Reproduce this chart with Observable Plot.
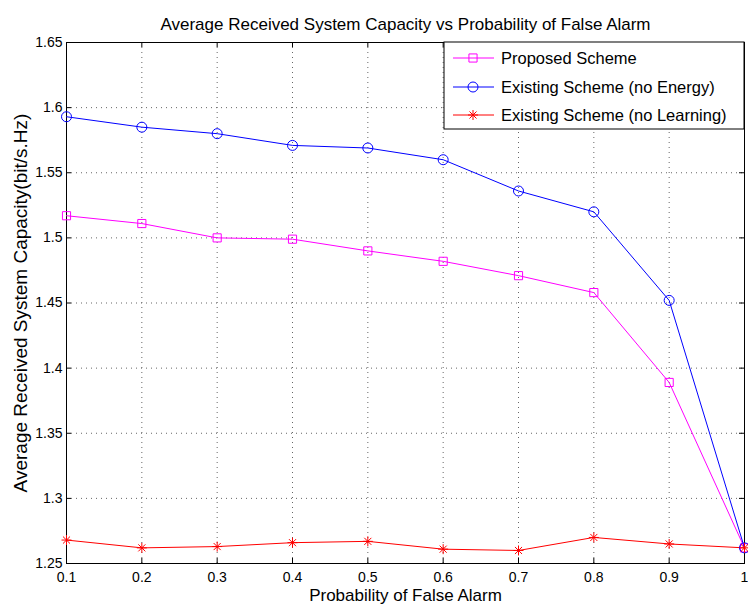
<!DOCTYPE html>
<html>
<head>
<meta charset="utf-8">
<script src="https://cdn.jsdelivr.net/npm/d3@7"></script>
<script src="https://cdn.jsdelivr.net/npm/@observablehq/plot@0.6"></script>
<style>
  html, body { margin: 0; padding: 0; background: #fff; }
  #chart { position: relative; width: 748px; height: 613px; }
</style>
</head>
<body>
<div id="chart"></div>
<script>
// Probability of false alarm (x) and average received capacity per scheme
const pfa = [0.1, 0.2, 0.3, 0.4, 0.5, 0.6, 0.7, 0.8, 0.9, 1.0];
const proposed = [1.517, 1.511, 1.500, 1.499, 1.490, 1.482, 1.471, 1.458, 1.389, 1.262];
const noEnergy = [1.593, 1.585, 1.580, 1.571, 1.569, 1.560, 1.536, 1.520, 1.452, 1.262];
const noLearning = [1.268, 1.262, 1.263, 1.266, 1.267, 1.261, 1.260, 1.270, 1.265, 1.262];

const seriesNames = ["Proposed Scheme", "Existing Scheme (no Energy)", "Existing Scheme (no Learning)"];
const seriesColors = ["#ff00ff", "#0000ff", "#ff0000"];

const xTicks = [0.1, 0.2, 0.3, 0.4, 0.5, 0.6, 0.7, 0.8, 0.9, 1.0];
const yTicks = [1.25, 1.3, 1.35, 1.4, 1.45, 1.5, 1.55, 1.6, 1.65];

const titleText = "Average Received System Capacity vs Probability of False Alarm";
const xLabel = "Probability of False Alarm";
const yLabel = "Average Received System Capacity(bit/s.Hz)";

// 8-armed asterisk marker
const star8 = {
  draw(context, size) {
    const r = Math.sqrt(size / Math.PI);
    for (let k = 0; k < 4; ++k) {
      const a = (k * Math.PI) / 4;
      const c = Math.cos(a) * r, s = Math.sin(a) * r;
      context.moveTo(-c, -s);
      context.lineTo(c, s);
    }
  }
};

const rows = (ys, si) => pfa.map((x, i) => ({x, y: ys[i], s: seriesNames[si]}));
const data = [...rows(proposed, 0), ...rows(noEnergy, 1), ...rows(noLearning, 2)];

const W = 748, H = 613;
const mL = 66, mR = 4, mT = 42, mB = 50;
const innerW = W - mL - mR, innerH = H - mT - mB;
const tickLen = 5;
const fmt = d => String(+d.toFixed(2));

const gridStyle = {stroke: "#666", strokeOpacity: 1, strokeDasharray: "1,4", strokeWidth: 1};

const chart = Plot.plot({
  width: W,
  height: H,
  marginLeft: mL,
  marginRight: mR,
  marginTop: mT,
  marginBottom: mB,
  style: {fontFamily: "'Liberation Sans', Arial, sans-serif", fontSize: "14px", background: "#fff", color: "#000"},
  x: {domain: [0.1, 1.0]},
  y: {domain: [1.25, 1.65]},
  marks: [
    Plot.gridX(xTicks, gridStyle),
    Plot.gridY(yTicks, gridStyle),
    Plot.frame({stroke: "#000", strokeWidth: 1}),
    // inward ticks on all four sides
    Plot.tickX(xTicks, {x: d => d, insetTop: innerH - tickLen, stroke: "#000"}),
    Plot.tickX(xTicks, {x: d => d, insetBottom: innerH - tickLen, stroke: "#000"}),
    Plot.tickY(yTicks, {y: d => d, insetRight: innerW - tickLen, stroke: "#000"}),
    Plot.tickY(yTicks, {y: d => d, insetLeft: innerW - tickLen, stroke: "#000"}),
    Plot.axisX(xTicks, {tickSize: 0, tickPadding: 9, tickFormat: fmt, label: null, fontSize: 14}),
    Plot.axisY(yTicks, {tickSize: 0, tickPadding: 4, tickFormat: fmt, label: null, fontSize: 14}),
    // series lines
    Plot.line(data, {x: "x", y: "y", z: "s", stroke: d => seriesColors[seriesNames.indexOf(d.s)], strokeWidth: 1}),
    Plot.dot(data.filter(d => d.s === seriesNames[0]), {x: "x", y: "y", symbol: "square", r: 4.6, stroke: seriesColors[0], fill: "none", strokeWidth: 1}),
    Plot.dot(data.filter(d => d.s === seriesNames[1]), {x: "x", y: "y", symbol: "circle", r: 5, stroke: seriesColors[1], fill: "none", strokeWidth: 1}),
    Plot.dot(data.filter(d => d.s === seriesNames[2]), {x: "x", y: "y", symbol: star8, r: 5, stroke: seriesColors[2], fill: "none", strokeWidth: 1}),
    // title and axis labels
    Plot.text([titleText], {frameAnchor: "top", dy: -25, fontSize: 17, textAnchor: "middle", text: d => d}),
    Plot.text([xLabel], {frameAnchor: "bottom", dy: 37, fontSize: 17, textAnchor: "middle", text: d => d}),
    Plot.text([yLabel], {frameAnchor: "left", dx: -46, rotate: -90, fontSize: 19, textAnchor: "middle", text: d => d})
  ]
});

document.getElementById("chart").appendChild(chart);

// Legend box in the upper-right corner of the plot area
const svg = d3.select(chart);
const lg = svg.append("g")
  .attr("font-family", "'Liberation Sans', Arial, sans-serif")
  .attr("text-anchor", "start");
const boxX = 444, boxY = 42, boxW = W - mR - boxX, boxH = 87;
lg.append("rect").attr("x", boxX).attr("y", boxY).attr("width", boxW).attr("height", boxH)
  .attr("fill", "#fff").attr("stroke", "#000").attr("stroke-width", 1);
const rowY = [58, 87, 115];
const shapes = [d3.symbolSquare, d3.symbolCircle, star8];
const sizes = [Math.PI * 4.6 * 4.6, Math.PI * 25, Math.PI * 25];
seriesNames.forEach((name, i) => {
  const y = rowY[i];
  lg.append("line").attr("x1", 453).attr("x2", 494).attr("y1", y).attr("y2", y)
    .attr("stroke", seriesColors[i]).attr("stroke-width", 1);
  lg.append("path").attr("transform", `translate(473,${y})`)
    .attr("d", d3.symbol(shapes[i], sizes[i])())
    .attr("fill", "none").attr("stroke", seriesColors[i]).attr("stroke-width", 1);
  lg.append("text").attr("x", 501).attr("y", y).attr("dy", "0.35em")
    .attr("text-anchor", "start")
    .attr("font-size", 16.5).attr("fill", "#000").text(name);
});
</script>
</body>
</html>
